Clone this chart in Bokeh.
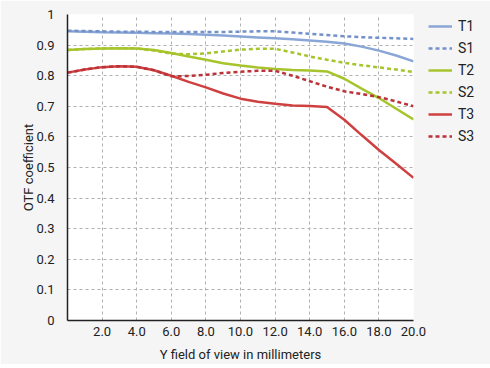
from bokeh.plotting import figure
from bokeh.models import Legend, LegendItem, FixedTicker, CustomJSTickFormatter
from bokeh.embed import file_html
from bokeh.resources import INLINE

x_mm = [0, 1, 2, 3, 4, 5, 6, 7, 8, 9, 10, 11, 12, 13, 14, 15, 16, 17, 18, 19, 20]
T1 = [0.945, 0.944, 0.942, 0.941, 0.940, 0.939, 0.938, 0.936, 0.934, 0.931, 0.928,
      0.925, 0.922, 0.919, 0.915, 0.911, 0.905, 0.895, 0.882, 0.866, 0.847]
S1 = [0.947, 0.946, 0.945, 0.944, 0.944, 0.943, 0.943, 0.943, 0.943, 0.943, 0.944,
      0.945, 0.945, 0.941, 0.937, 0.933, 0.929, 0.926, 0.924, 0.922, 0.920]
T2 = [0.884, 0.887, 0.889, 0.890, 0.889, 0.884, 0.874, 0.863, 0.852, 0.841, 0.833,
      0.827, 0.822, 0.819, 0.817, 0.814, 0.790, 0.758, 0.727, 0.692, 0.657]
S2 = [0.884, 0.887, 0.889, 0.890, 0.889, 0.882, 0.872, 0.870, 0.873, 0.879, 0.885,
      0.888, 0.888, 0.876, 0.863, 0.852, 0.842, 0.834, 0.827, 0.820, 0.812]
T3 = [0.810, 0.820, 0.828, 0.831, 0.829, 0.818, 0.800, 0.780, 0.762, 0.742, 0.725,
      0.715, 0.708, 0.703, 0.701, 0.698, 0.656, 0.606, 0.557, 0.512, 0.466]
S3 = [0.810, 0.820, 0.828, 0.831, 0.829, 0.818, 0.798, 0.799, 0.803, 0.809, 0.813,
      0.816, 0.816, 0.800, 0.782, 0.764, 0.749, 0.740, 0.730, 0.716, 0.700]
series_names = ["T1", "S1", "T2", "S2", "T3", "S3"]
x_ticks = [2, 4, 6, 8, 10, 12, 14, 16, 18, 20]
y_ticks = [0, 0.1, 0.2, 0.3, 0.4, 0.5, 0.6, 0.7, 0.8, 0.9, 1]

FONT = "Roboto"
BG = "#f5f5f5"

p = figure(frame_width=346, frame_height=306, output_backend="svg",
           toolbar_location=None, x_range=(0, 20), y_range=(0, 1),
           min_border_left=67, min_border_right=0, min_border_top=14,
           min_border_bottom=40)
p.background_fill_color = "white"
p.border_fill_color = BG
p.outline_line_color = None

p.xgrid.grid_line_color = "#b0b0b0"
p.ygrid.grid_line_color = "#b0b0b0"
p.xgrid.grid_line_dash = "3 3"
p.ygrid.grid_line_dash = "3 3"
p.xgrid.grid_line_width = 1
p.ygrid.grid_line_width = 1

p.xaxis.ticker = FixedTicker(ticks=x_ticks)
p.yaxis.ticker = FixedTicker(ticks=y_ticks)
p.xaxis.formatter = CustomJSTickFormatter(code="return tick.toFixed(1);")
p.yaxis.formatter = CustomJSTickFormatter(code="return tick === 0 ? '0' : (tick === 1 ? '1' : tick.toFixed(1));")
for ax in (p.xaxis, p.yaxis):
    ax.major_tick_line_color = None
    ax.minor_tick_line_color = None
    ax.axis_line_color = "#222222"
    ax.axis_line_width = 1.5
    ax.major_label_text_font = FONT
    ax.major_label_text_font_size = "13px"
    ax.major_label_text_color = "#222222"
    ax.axis_label_text_font = FONT
    ax.axis_label_text_font_size = "13px"
    ax.axis_label_text_font_style = "normal"
    ax.axis_label_text_color = "#222222"
p.xaxis.axis_label = "Y field of view in millimeters"
p.yaxis.axis_label = "OTF coefficient"
p.xaxis.major_label_standoff = 0
p.yaxis.major_label_standoff = 7
p.xaxis.axis_label_standoff = 8
p.yaxis.axis_label_standoff = -3

styles = [
    (T1, "#8aa6d6", None),
    (S1, "#7392c9", "4 3"),
    (T2, "#a6c42c", None),
    (S2, "#a6c42c", "4 3"),
    (T3, "#cf4040", None),
    (S3, "#bb3238", "4 3"),
]
items = []
for name, (vals, color, dash) in zip(series_names, styles):
    kw = dict(line_color=color, line_width=2.5)
    if dash:
        kw["line_dash"] = dash
    r = p.line(x_mm, vals, **kw)
    items.append(LegendItem(label=name, renderers=[r]))

legend = Legend(items=items, location=(15, 174))
legend.background_fill_alpha = 0
legend.border_line_color = None
legend.label_text_font = FONT
legend.label_text_font_size = "14px"
legend.label_text_color = "#222222"
legend.glyph_width = 24
legend.glyph_height = 20
legend.label_height = 20
legend.spacing = 2
legend.padding = 0
legend.margin = 0
legend.label_standoff = 6
p.add_layout(legend, "right")

open("out.html", "w").write(file_html(p, INLINE))
